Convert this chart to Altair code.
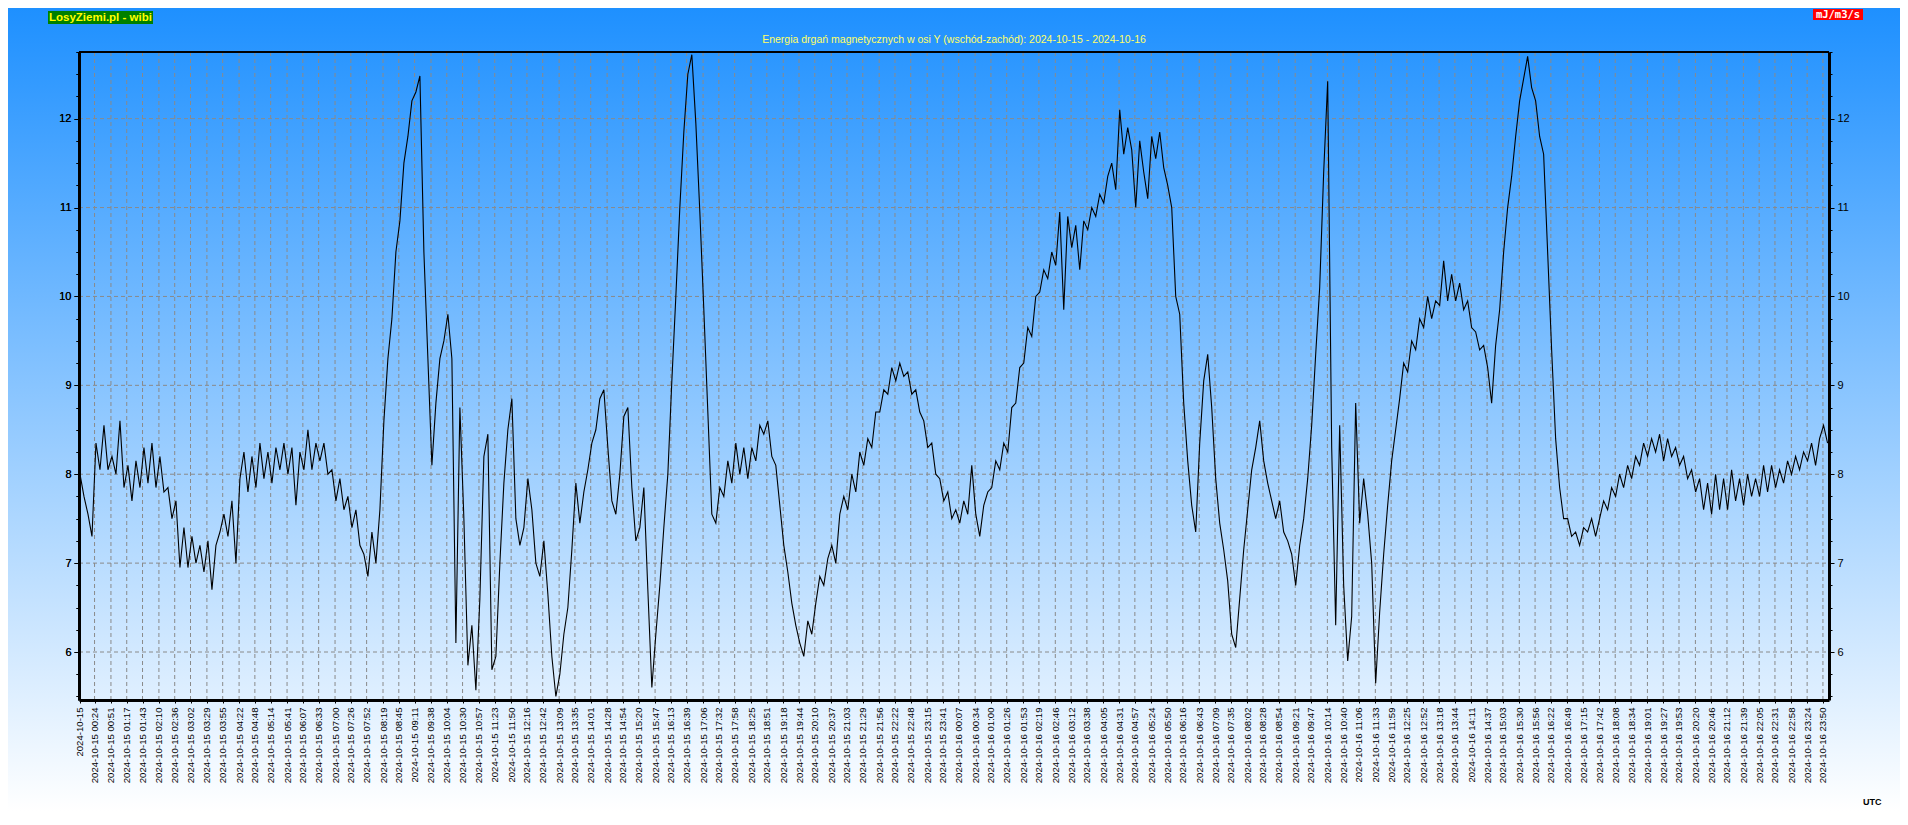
import altair as alt
import pandas as pd

# ---- data (one value every quarter of a grid step) ----
SAMPLE_MINUTES = 26.34 / 4

VALUES = [
    # 2024-10-15 00:00 ...
    8.0, 7.75, 7.55, 7.3, 8.35, 8.05, 8.55, 8.05, 8.2, 8.0, 8.6, 7.85, 8.1, 7.7, 8.15, 7.85, 8.3, 7.9, 8.35, 7.85,
    8.2, 7.8, 7.85, 7.5, 7.7, 6.95, 7.4, 6.95, 7.3, 7.0, 7.2, 6.9, 7.25, 6.7, 7.2, 7.35, 7.55, 7.3, 7.7, 7.0,
    7.95, 8.25, 7.8, 8.2, 7.85, 8.35, 7.95, 8.25, 7.9, 8.3, 8.05, 8.35, 8.0, 8.3, 7.65, 8.25, 8.05, 8.5, 8.05, 8.35,
    8.15, 8.35, 8.0, 8.05, 7.7, 7.95, 7.6, 7.75, 7.4, 7.6, 7.2, 7.1, 6.85, 7.35, 7.0, 7.6, 8.6, 9.3, 9.75, 10.5,
    10.85, 11.5, 11.8, 12.2, 12.3, 12.48, 10.5, 9.3, 8.1, 8.8, 9.3, 9.5, 9.8, 9.3, 6.1, 8.75, 7.5, 5.85, 6.3, 5.57,
    6.6, 8.2, 8.45, 5.8, 5.95, 7.0, 7.9, 8.5, 8.85, 7.5, 7.2, 7.4, 7.95, 7.6, 7.0, 6.85, 7.25, 6.65, 5.95, 5.5,
    5.75, 6.2, 6.5, 7.15, 7.9, 7.45, 7.8, 8.05, 8.35, 8.5, 8.85, 8.95, 8.3, 7.7, 7.55, 8.0, 8.65, 8.75, 7.85, 7.25,
    7.4, 7.85, 6.7, 5.6, 6.2, 6.75, 7.4, 8.0, 9.05, 10.0, 11.0, 11.85, 12.5, 12.72, 11.95, 10.95, 9.85, 8.7, 7.55, 7.45,
    7.85, 7.75, 8.15, 7.9, 8.35, 8.0, 8.3, 7.95, 8.3, 8.15, 8.55, 8.45, 8.6, 8.2, 8.1, 7.65, 7.2, 6.9, 6.55, 6.3,
    6.1, 5.95, 6.35, 6.2, 6.55, 6.85, 6.75, 7.05, 7.2, 7.0, 7.55, 7.75, 7.6, 8.0, 7.8, 8.25, 8.1, 8.4, 8.3, 8.7,
    8.7, 8.95, 8.9, 9.2, 9.05, 9.25, 9.1, 9.15, 8.9, 8.95, 8.7, 8.6, 8.3, 8.35, 8.0, 7.95, 7.7, 7.8, 7.5, 7.6,
    7.45, 7.7, 7.55, 8.1, 7.55, 7.3, 7.65, 7.8, 7.85, 8.15, 8.05, 8.35, 8.25, 8.75, 8.8, 9.2, 9.25, 9.65, 9.55, 10.0,
    # ... 2024-10-16
    10.05, 10.3, 10.2, 10.5, 10.35, 10.95, 9.85, 10.9, 10.55, 10.8, 10.3, 10.85, 10.75, 11.0, 10.9, 11.15, 11.05, 11.35, 11.5, 11.2,
    12.1, 11.6, 11.9, 11.65, 11.0, 11.75, 11.4, 11.1, 11.8, 11.55, 11.85, 11.45, 11.25, 11.0, 10.0, 9.8, 8.8, 8.15, 7.65, 7.35,
    8.35, 9.05, 9.35, 8.75, 7.95, 7.45, 7.15, 6.8, 6.2, 6.05, 6.6, 7.15, 7.6, 8.05, 8.3, 8.6, 8.15, 7.9, 7.7, 7.5,
    7.7, 7.35, 7.25, 7.1, 6.75, 7.2, 7.5, 7.95, 8.55, 9.35, 10.1, 11.4, 12.42, 8.3, 6.3, 8.55, 6.75, 5.9, 6.4, 8.8,
    7.45, 7.95, 7.55, 7.0, 5.65, 6.45, 7.1, 7.65, 8.15, 8.5, 8.85, 9.25, 9.15, 9.5, 9.4, 9.75, 9.65, 10.0, 9.75, 9.95,
    9.9, 10.4, 9.95, 10.25, 9.95, 10.15, 9.85, 9.95, 9.65, 9.6, 9.4, 9.45, 9.2, 8.8, 9.45, 9.85, 10.5, 11.0, 11.35, 11.8,
    12.2, 12.45, 12.7, 12.35, 12.2, 11.8, 11.6, 10.5, 9.4, 8.4, 7.85, 7.5, 7.5, 7.3, 7.35, 7.2, 7.4, 7.35, 7.5, 7.3,
    7.5, 7.7, 7.6, 7.85, 7.75, 8.0, 7.85, 8.1, 7.95, 8.2, 8.1, 8.35, 8.2, 8.4, 8.25, 8.45, 8.15, 8.4, 8.2, 8.3,
    8.1, 8.2, 7.95, 8.05, 7.8, 7.95, 7.6, 7.9, 7.55, 8.0, 7.6, 7.95, 7.6, 8.05, 7.7, 7.95, 7.65, 8.0, 7.75, 7.95,
    7.75, 8.1, 7.8, 8.1, 7.85, 8.05, 7.9, 8.15, 8.0, 8.2, 8.05, 8.25, 8.15, 8.35, 8.1, 8.4, 8.55, 8.35,
]

TICK_LABELS = [
    "2024-10-15",
    "2024-10-15 00:24", "2024-10-15 00:51", "2024-10-15 01:17", "2024-10-15 01:43", "2024-10-15 02:10",
    "2024-10-15 02:36", "2024-10-15 03:02", "2024-10-15 03:29", "2024-10-15 03:55", "2024-10-15 04:22",
    "2024-10-15 04:48", "2024-10-15 05:14", "2024-10-15 05:41", "2024-10-15 06:07", "2024-10-15 06:33",
    "2024-10-15 07:00", "2024-10-15 07:26", "2024-10-15 07:52", "2024-10-15 08:19", "2024-10-15 08:45",
    "2024-10-15 09:11", "2024-10-15 09:38", "2024-10-15 10:04", "2024-10-15 10:30", "2024-10-15 10:57",
    "2024-10-15 11:23", "2024-10-15 11:50", "2024-10-15 12:16", "2024-10-15 12:42", "2024-10-15 13:09",
    "2024-10-15 13:35", "2024-10-15 14:01", "2024-10-15 14:28", "2024-10-15 14:54", "2024-10-15 15:20",
    "2024-10-15 15:47", "2024-10-15 16:13", "2024-10-15 16:39", "2024-10-15 17:06", "2024-10-15 17:32",
    "2024-10-15 17:58", "2024-10-15 18:25", "2024-10-15 18:51", "2024-10-15 19:18", "2024-10-15 19:44",
    "2024-10-15 20:10", "2024-10-15 20:37", "2024-10-15 21:03", "2024-10-15 21:29", "2024-10-15 21:56",
    "2024-10-15 22:22", "2024-10-15 22:48", "2024-10-15 23:15", "2024-10-15 23:41",
    "2024-10-16 00:07", "2024-10-16 00:34", "2024-10-16 01:00", "2024-10-16 01:26", "2024-10-16 01:53",
    "2024-10-16 02:19", "2024-10-16 02:46", "2024-10-16 03:12", "2024-10-16 03:38", "2024-10-16 04:05",
    "2024-10-16 04:31", "2024-10-16 04:57", "2024-10-16 05:24", "2024-10-16 05:50", "2024-10-16 06:16",
    "2024-10-16 06:43", "2024-10-16 07:09", "2024-10-16 07:35", "2024-10-16 08:02", "2024-10-16 08:28",
    "2024-10-16 08:54", "2024-10-16 09:21", "2024-10-16 09:47", "2024-10-16 10:14", "2024-10-16 10:40",
    "2024-10-16 11:06", "2024-10-16 11:33", "2024-10-16 11:59", "2024-10-16 12:25", "2024-10-16 12:52",
    "2024-10-16 13:18", "2024-10-16 13:44", "2024-10-16 14:11", "2024-10-16 14:37", "2024-10-16 15:03",
    "2024-10-16 15:30", "2024-10-16 15:56", "2024-10-16 16:22", "2024-10-16 16:49", "2024-10-16 17:15",
    "2024-10-16 17:42", "2024-10-16 18:08", "2024-10-16 18:34", "2024-10-16 19:01", "2024-10-16 19:27",
    "2024-10-16 19:53", "2024-10-16 20:20", "2024-10-16 20:46", "2024-10-16 21:12", "2024-10-16 21:39",
    "2024-10-16 22:05", "2024-10-16 22:31", "2024-10-16 22:58", "2024-10-16 23:24", "2024-10-16 23:50",
]

Y_MAJOR = [6, 7, 8, 9, 10, 11, 12]
Y_MINOR_STEP = 0.25
Y_RANGE = [5.46, 12.75]
X_RANGE = [-1.6, 2880]

TITLE = "Energia drgań magnetycznych w osi Y (wschód-zachód): 2024-10-15 - 2024-10-16"
BRAND = "LosyZiemi.pl - wibi"
UNIT = "mJ/m3/s"
TZ = "UTC"

# ---- derived tables ----
df = pd.DataFrame({"t": [i * SAMPLE_MINUTES for i in range(len(VALUES))], "v": VALUES})


def label_minutes(s):
    day = int(s[8:10]) - 15
    if len(s) == 10:
        return day * 1440
    return day * 1440 + int(s[11:13]) * 60 + int(s[14:16])


x_ticks = [label_minutes(s) for s in TICK_LABELS]
n_minor = int(round((Y_RANGE[1] - 5.5) / Y_MINOR_STEP)) + 1
y_ticks = [5.5 + i * Y_MINOR_STEP for i in range(n_minor)]

x_grid_df = pd.DataFrame({"t": x_ticks})
y_grid_df = pd.DataFrame({"v": Y_MAJOR})

W, H = 1750, 648
PAD = {"left": 71, "top": 44, "right": 71, "bottom": 111}
FONT = "Liberation Sans"
GRID = "#8a8a8a"

x_scale = alt.Scale(domain=X_RANGE, nice=False, zero=False)
y_scale = alt.Scale(domain=Y_RANGE, nice=False, zero=False)

x_label_expr = (
    "datum.value == 0 ? '2024-10-15' : '2024-10-' + (datum.value < 1440 ? '15' : '16') + ' ' + "
    "format(floor((datum.value % 1440) / 60), '02d') + ':' + format(datum.value % 60, '02d')"
)

is_major = "datum.value % 1 == 0"

x_axis = alt.Axis(
    values=x_ticks,
    tickCount=1000,
    labelExpr=x_label_expr,
    labelAngle=-90,
    labelAlign="right",
    labelBaseline="middle",
    labelFontSize=9.6,
    labelFont=FONT,
    labelColor="#000000",
    labelOverlap=False,
    labelFlush=False,
    labelBound=False,
    labelPadding=4,
    tickSize=3,
    tickColor="#000000",
    domainColor="#000000",
    domainWidth=3,
    grid=False,
    title=None,
    zindex=1,
)

y_axis_common = dict(
    values=y_ticks,
    tickCount=1000,
    labelExpr=f"{is_major} ? datum.value : ''",
    labelFontSize=11,
    labelFont=FONT,
    labelColor="#000000",
    labelPadding=3,
    labelOverlap=False,
    labelFlush=False,
    tickColor="#000000",
    tickSize={"condition": {"test": is_major, "value": 5}, "value": 3},
    domainColor="#000000",
    domainWidth=3,
    grid=False,
    title=None,
    zindex=1,
)
y_axis_left = alt.Axis(orient="left", **y_axis_common)
y_axis_right = alt.Axis(orient="right", **y_axis_common)

one = pd.DataFrame({"a": [0]})

background = alt.Chart(one).mark_rect(
    color=alt.LinearGradient(
        gradient="linear",
        stops=[
            alt.GradientStop(color="#1e90ff", offset=0),
            alt.GradientStop(color="#ffffff", offset=1),
        ],
        x1=0, x2=0, y1=0, y2=1,
    )
).encode(
    x=alt.value(-PAD["left"]), x2=alt.value(W + PAD["right"]),
    y=alt.value(-PAD["top"]), y2=alt.value(H + PAD["bottom"]),
)

grid_v = alt.Chart(x_grid_df).mark_rule(color=GRID, strokeWidth=1, strokeDash=[4, 3]).encode(
    x=alt.X("t:Q", scale=x_scale, axis=x_axis), y=alt.value(0), y2=alt.value(H)
)
grid_h = alt.Chart(y_grid_df).mark_rule(color=GRID, strokeWidth=1, strokeDash=[4, 3]).encode(
    y=alt.Y("v:Q", scale=y_scale, axis=y_axis_left), x=alt.value(0), x2=alt.value(W)
)

line = alt.Chart(df).mark_line(color="#000000", strokeWidth=1.1).encode(
    x=alt.X("t:Q", scale=x_scale, axis=x_axis),
    y=alt.Y("v:Q", scale=y_scale, axis=y_axis_left),
)
right_axis = alt.Chart(df).mark_line(opacity=0).encode(
    x=alt.X("t:Q", scale=x_scale, axis=x_axis),
    y=alt.Y("v:Q", scale=y_scale, axis=y_axis_right),
)

top_border = alt.Chart(one).mark_rule(color="#000000", strokeWidth=2).encode(
    x=alt.value(0), x2=alt.value(W), y=alt.value(0)
)

brand_box = alt.Chart(one).mark_rect(color="#008000").encode(
    x=alt.value(-31), x2=alt.value(74), y=alt.value(-41), y2=alt.value(-28)
)
brand_text = alt.Chart(one).mark_text(
    text=BRAND, color="#ffff00", font=FONT, fontSize=11.5, fontWeight="bold",
    align="left", baseline="middle",
).encode(x=alt.value(-30), y=alt.value(-34))

unit_box = alt.Chart(one).mark_rect(color="#ff0000").encode(
    x=alt.value(1734), x2=alt.value(1784), y=alt.value(-43), y2=alt.value(-32)
)
unit_text = alt.Chart(one).mark_text(
    text=UNIT, color="#ffffff", font="DejaVu Sans Mono", fontSize=10.5, fontWeight="bold",
    align="center", baseline="middle",
).encode(x=alt.value(1759), y=alt.value(-37))

title_text = alt.Chart(one).mark_text(
    text=TITLE, color="#ffff66", font=FONT, fontSize=10.5,
    align="center", baseline="middle",
).encode(x=alt.value(W / 2), y=alt.value(-12))

utc_text = alt.Chart(one).mark_text(
    text=TZ, color="#000000", font=FONT, fontSize=9, fontWeight="bold",
    align="left", baseline="middle",
).encode(x=alt.value(1784), y=alt.value(H + 102))

chart = (
    alt.layer(background, grid_v, grid_h, line, right_axis, top_border, brand_box, brand_text,
              unit_box, unit_text, title_text, utc_text)
    .resolve_scale(x="shared", y="shared")
    .properties(
        width=W,
        height=H,
        autosize=alt.AutoSizeParams(type="none"),
        padding=PAD,
        background="#ffffff",
    )
    .configure_view(stroke=None)
)

chart.save("out.html", embed_options={"renderer": "svg", "actions": False})
